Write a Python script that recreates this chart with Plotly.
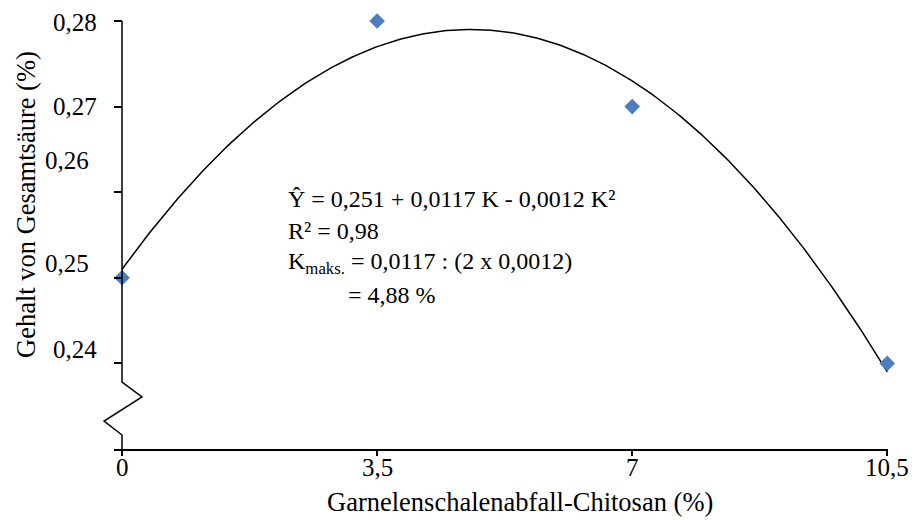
import numpy as np
import plotly.graph_objects as go

# ---- data ----
chitosan = [0, 3.5, 7, 10.5]
acid = [0.25, 0.28, 0.27, 0.24]
x_tick_vals = [0, 3.5, 7, 10.5]
x_tick_text = ["0", "3,5", "7", "10,5"]
y_tick_vals = [0.24, 0.25, 0.26, 0.27, 0.28]
y_tick_text = ["0,24", "0,25", "0,26", "0,27", "0,28"]
eq_lines = ["Ŷ = 0,251 + 0,0117 K - 0,0012 K²", "R² = 0,98",
            "K<sub>maks.</sub> = 0,0117 : (2 x 0,0012)", "= 4,88 %"]

# ---- layout geometry ----
W, H = 915, 520
ML, MR, MT, MB = 114, 27, 21, 71
XR = [-0.11, 10.51]
YR = [0.23, 0.28]
pw, ph = W - ML - MR, H - MT - MB

def px2paper(px):
    return (px - ML) / pw

def py2paper(py):
    return 1 - (py - MT) / ph

# quadratic trend fitted to the data
coef = np.polyfit(chitosan, acid, 2)
xs = np.linspace(0, 10.5, 300)
ys = np.polyval(coef, xs)

FONT = "Liberation Serif"
fig = go.Figure()
fig.add_trace(go.Scatter(x=xs, y=ys, mode="lines",
                         line=dict(color="black", width=1.5), hoverinfo="skip"))
fig.add_trace(go.Scatter(x=chitosan, y=acid, mode="markers", cliponaxis=False,
                         marker=dict(symbol="diamond", size=12, color="#4a7ebf")))

# y axis line with break (paper coords so it is not clipped)
pts_px = [(0, 21), (0, 382), (20, 397), (-18, 421), (0, 435), (0, 449)]
x0_px = ML + (0 - XR[0]) / (XR[1] - XR[0]) * pw
path = ""
for i, (dx, py) in enumerate(pts_px):
    path += ("M" if i == 0 else "L") + f"{px2paper(x0_px + dx)},{py2paper(py)} "
fig.add_shape(type="path", path=path, xref="paper", yref="paper",
              line=dict(color="black", width=1.5))

annotations = []
# y tick labels (placed as in reference)
ylab_pos = {"0,28": (99, 22), "0,27": (99, 107), "0,26": (91, 160),
            "0,25": (91, 263), "0,24": (99, 349)}
for t in y_tick_text:
    px, py = ylab_pos[t]
    annotations.append(dict(text=t, x=px2paper(px), y=py2paper(py), xref="paper", yref="paper",
                            xanchor="right", yanchor="middle", showarrow=False,
                            font=dict(family=FONT, size=25, color="black")))
# x tick labels
for v, t in zip(x_tick_vals, x_tick_text):
    annotations.append(dict(text=t, x=v, y=py2paper(467), xref="x", yref="paper",
                            xanchor="center", yanchor="middle", showarrow=False,
                            font=dict(family=FONT, size=25, color="black")))
# equation block
eq_pos = [(286, 199), (286, 231), (286, 263), (346, 295)]
for t, (px, py) in zip(eq_lines, eq_pos):
    annotations.append(dict(text=t, x=px2paper(px), y=py2paper(py), xref="paper", yref="paper",
                            xanchor="left", yanchor="middle", showarrow=False,
                            font=dict(family=FONT, size=24, color="black")))
# axis titles
annotations.append(dict(text="Garnelenschalenabfall-Chitosan (%)", x=px2paper(520), y=py2paper(502),
                        xref="paper", yref="paper", xanchor="center", yanchor="middle",
                        showarrow=False, font=dict(family=FONT, size=26.5, color="black")))
annotations.append(dict(text="Gehalt von Gesamtsäure (%)", x=px2paper(26), y=py2paper(205),
                        xref="paper", yref="paper", xanchor="center", yanchor="middle",
                        textangle=-90, showarrow=False, font=dict(family=FONT, size=26.5, color="black")))

fig.update_layout(
    width=W, height=H, margin=dict(l=ML, r=MR, t=MT, b=MB),
    paper_bgcolor="white", plot_bgcolor="white", showlegend=False,
    annotations=annotations,
    xaxis=dict(range=XR, tickvals=x_tick_vals, showticklabels=False, showgrid=False,
               zeroline=False, showline=True, linecolor="black", linewidth=1.5,
               ticks="outside", ticklen=5, tickcolor="black", tickwidth=1.5),
    yaxis=dict(range=YR, tickvals=y_tick_vals, showticklabels=False,
               showgrid=False, zeroline=False, showline=False,
               anchor="free", position=(0 - XR[0]) / (XR[1] - XR[0]),
               ticks="outside", ticklen=8, tickcolor="black", tickwidth=1.5),
)
fig.write_html("out.html", config={"displayModeBar": False},
               post_script="document.body.style.margin='0';document.body.style.overflow='hidden';")
